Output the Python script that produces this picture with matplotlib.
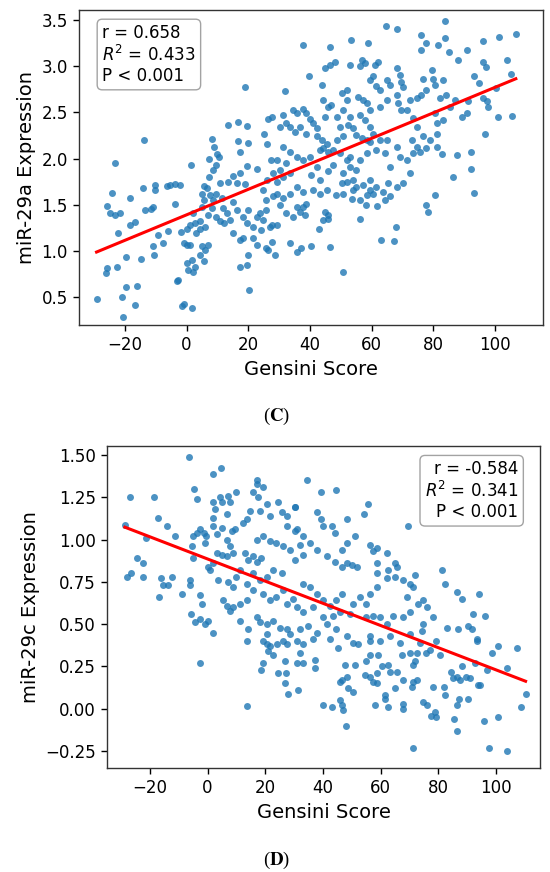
import numpy as np
import matplotlib.pyplot as plt

# ---- panel C: miR-29a vs Gensini score ----
gensini_c = [
    -23.2, -13.8, -24.2, -18.4, -14.2, -10.3, -10.3, -5.4, -3.8, -2.2, -6.5, 1.4,
    7.2, 8.6, 9.7, 7.2, 8.3, 8.9, 10.0, 10.5, 13.4, 16.7, 16.7, 17.3, 19.5, 20.0,
    19.5, 18.9, 15.1, 17.3, 22.8, 25.1, 26.2, 27.3, 26.2, 26.5, 27.6,
    37.8, 46.5, 53.2, 59.0, 64.6, 68.3, 76.0, 83.8, 77.8, 76.2, 81.6, 83.8, 85.2, 88.1, 91.1, 96.2, 101.2, 106.8, 103.8, 96.2,
    97.1, 105.1, 93.2, 94.9, 100.3, 96.2, 97.8, 97.3, 101.1, 105.6, 96.8, 92.4, 92.4, 93.2, 87.8, 86.3, 83.0, 80.5,
    90.8, 89.5, 91.4, 87.0, 85.4, 83.2, 81.1, 80.5, 83.2, 80.5, 79.5, 79.8, 76.8, 77.8, 76.2, 82.2, 84.3,
    74.6, 72.4, 71.4, 73.5, 74.6, 73.0, 76.8, 78.9, 81.1, 81.1, 75.7, 77.8,
    68.1, 69.2, 69.7, 70.3, 64.9, 65.9, 68.1, 68.7, 69.7, 64.9, 62.7,
    61.1, 62.2, 60.5, 61.6, 62.7, 59.5, 56.8, 57.8, 56.4, 53.0,
    55.7, 57.3, 58.4, 59.5, 56.2, 57.8, 59.5, 60.5, 54.1, 55.1, 56.8, 58.4, 59.5,
    51.9, 50.3, 51.9, 50.8, 53.0, 52.4, 48.7, 49.7, 50.8, 48.7, 47.6,
    44.9, 46.5, 48.1, 43.8, 44.3, 45.9, 47.0, 44.9, 39.8, 37.8, 38.9,
    31.9, 31.4, 32.4, 30.3, 34.6, 35.7, 33.5, 35.1, 36.8,
    40.0, 41.1, 42.2, 38.9, 42.2, 43.8, 45.4, 44.3, 45.9,
    31.4, 33.5, 35.7, 37.8, 32.4, 29.2, 30.3, 40.0, 43.2, 42.2, 40.5, 43.2, 45.9, 47.6,
    49.7, 51.9, 53.0, 50.8, 54.1, 55.1, 57.3, 59.5, 61.6, 63.8, 65.9, 68.1, 70.3, 72.4, 71.4, 69.2, 68.1,
    61.6, 62.7, 64.9, 64.3, 65.9, 58.4, 56.2, 55.1, 53.0, 73.5, 74.6, 60.5, 58.4, 59.5,
    33.5, 35.7, 37.8, 41.1, 43.2, 45.4, 48.6, 50.8, 28.1, 29.2, 31.4, 33.5,
    -29.2, -25.9, -26.2, -25.9, -24.9, -23.2, -21.6, -22.7, -22.2, -20.8, -19.5, -20.5, -19.7, -18.2, -16.8, -16.8, -16.2, -14.9,
    -13.5, -11.4, -10.8, -10.8, -10.6, -9.2, -7.6, -5.9, -3.8, -3.2, -2.7, -1.6, -0.9, 1.9, -1.9, -0.8, 0.0, 1.1,
    0.2, 0.5, 1.6, 2.2, 2.7, 0.0, 1.1, 2.7, 4.3, 5.9, 4.3, 3.2, 2.2, 4.9, 5.6, 4.9, 5.6, 6.5, 7.6, 8.6, 8.1, 7.0,
    4.3, 4.9, 5.9, 5.6, 7.0, 9.5, 10.8, 12.1, 14.1, 9.7, 11.4, 11.9, 13.0, 15.1, 16.2, 18.4, 20.0, 19.5, 21.6, 22.7,
    15.1, 17.3, 18.4, 17.3, 19.5, 20.0, 20.3, 21.6, 22.7, 23.8, 24.9, 25.9, 27.0, 24.3, 25.9, 26.5, 28.6, 27.6, 29.2,
    24.9, 25.9, 28.1, 29.2, 31.4, 30.3, 33.5, 35.7, 32.4, 34.6, 35.7, 16.5, 19.0, 13.5, 11.0,
    50.6, 63.2, 67.2, 67.9, 56.2, 43.0, 46.5, 40.5, 37.0, 77.6, 78.4, 64.3, 61.8, 58.2, 56.2, 53.5,
    44.9, 46.0, 46.0, 44.3, 37.8, 38.9, 36.8, 38.4, 50.3, 51.9, 54.1, 65.4, 27.6,
]
mir29a = [
    1.95, 2.20, 1.63, 1.57, 1.68, 1.71, 1.66, 1.71, 1.72, 1.71, 1.70, 1.93,
    1.80, 1.88, 1.93, 2.00, 2.21, 2.12, 2.05, 2.02, 2.36, 2.40, 2.19, 2.07, 2.35, 2.17,
    1.92, 2.77, 1.81, 1.84, 1.89, 2.27, 2.16, 1.98, 1.77, 2.43, 2.45,
    3.23, 3.21, 3.28, 3.25, 3.43, 3.40, 3.34, 3.49, 3.25, 3.18, 3.23, 3.31, 3.15, 3.07, 3.18, 3.27, 3.32, 3.35, 3.07, 3.05,
    2.99, 2.92, 2.89, 2.82, 2.76, 2.65, 2.56, 2.62, 2.45, 2.46, 2.27, 2.07, 1.89, 1.63, 2.04, 1.80, 2.05, 1.61,
    2.49, 2.45, 2.62, 2.63, 2.56, 2.42, 2.38, 2.49, 2.85, 2.80, 2.96, 2.86, 2.86, 2.74, 2.69, 2.65, 2.69,
    2.65, 2.63, 2.53, 2.44, 2.34, 2.20, 2.24, 2.20, 2.27, 2.13, 2.07, 2.11,
    2.98, 2.90, 2.83, 2.77, 2.85, 2.80, 2.69, 2.60, 2.53, 2.63, 2.56,
    3.01, 3.05, 2.89, 2.78, 2.74, 2.85, 3.07, 3.03, 3.00, 3.01,
    2.67, 2.63, 2.60, 2.53, 2.47, 2.42, 2.34, 2.27, 2.33, 2.25, 2.22, 2.20, 2.18,
    2.74, 2.71, 2.63, 2.53, 2.45, 2.36, 2.45, 2.34, 2.24, 2.20, 2.09,
    2.98, 3.01, 3.05, 2.80, 2.63, 2.56, 2.58, 2.45, 2.89, 2.54, 2.49,
    2.73, 2.47, 2.38, 2.34, 2.53, 2.49, 2.34, 2.29, 2.34,
    2.43, 2.38, 2.33, 2.27, 2.24, 2.20, 2.16, 2.11, 2.07,
    2.13, 2.07, 2.02, 1.98, 1.95, 1.98, 1.88, 2.02, 2.09, 1.91, 1.82, 1.77, 1.86, 1.93,
    2.06, 1.98, 1.91, 1.84, 1.77, 1.69, 1.71, 1.77, 1.69, 1.64, 1.59, 1.69, 1.73, 1.84, 1.98, 2.02, 2.13,
    2.09, 2.20, 2.20, 2.06, 1.91, 2.06, 1.98, 1.88, 2.02, 2.06, 2.13, 1.62, 1.60, 1.66,
    1.62, 1.69, 1.64, 1.66, 1.62, 1.66, 1.60, 1.62, 1.84, 1.75, 1.80, 1.84,
    0.475, 0.81, 0.76, 1.49, 1.41, 1.39, 1.41, 0.82, 1.19, 0.50, 0.61, 0.28, 0.93, 1.28, 1.31, 0.41, 0.62, 0.91,
    1.44, 1.45, 1.48, 1.05, 0.95, 1.17, 1.08, 1.21, 1.51, 0.67, 0.68, 0.40, 0.42, 0.38, 1.20, 1.08, 1.06, 1.06,
    0.87, 0.79, 0.90, 0.77, 0.82, 1.24, 1.28, 1.30, 1.32, 1.26, 1.24, 1.19, 1.41, 1.48, 1.55, 1.62, 1.70, 1.68, 1.60, 1.55, 1.46, 1.39,
    0.95, 1.05, 1.01, 0.89, 1.06, 1.37, 1.32, 1.30, 1.33, 1.62, 1.57, 1.46, 1.41, 1.53, 1.44, 1.37, 1.44, 1.30, 1.26, 1.37,
    1.19, 1.12, 1.14, 0.82, 0.85, 0.95, 0.58, 1.14, 1.06, 1.41, 1.33, 1.44, 1.26, 1.23, 1.03, 1.01, 0.95, 1.28, 1.28,
    1.66, 1.55, 1.59, 1.62, 1.57, 1.50, 1.08, 0.99, 1.41, 1.37, 1.48, 1.74, 1.72, 1.75, 1.73,
    0.77, 1.12, 1.11, 1.26, 1.35, 1.24, 1.04, 1.05, 1.03, 1.50, 1.42, 1.55, 1.49, 1.50, 1.55, 1.56,
    1.42, 1.39, 1.34, 1.33, 1.48, 1.51, 1.42, 1.39, 1.73, 1.75, 1.66, 1.73, 1.10,
]

# ---- panel D: miR-29c vs Gensini score ----
gensini_d = [
    -28.7, -26.9, -28.1, -26.4, -24.6, -22.3, -22.3, -18.6, -21.2, -17.1, -14.2, -11.3, -16.8, -16.0, -15.4, -13.6, -12.5, -9.0,
    -6.4, -4.7, -3.8, -6.1, -6.1, -5.9, -4.4, -2.7, -0.9, 0.2, 2.0, -2.7, -2.1, -4.9, -5.5, -4.9, -3.8, -2.7, -1.3, -0.4, -1.0,
    2.0, 4.5, 2.0, 2.5, 4.3, 4.9, 7.7, 7.2, 10.0, 2.0, 2.0, 4.9, 3.1, 6.6, 8.3, 9.5, 6.6,
    0.2, 0.8, 2.0, 3.1, 4.9, 6.6, 8.9, 7.7, 3.7, 7.2, 8.9, 10.0, 5.4, 6.6, 7.7, 8.9, 11.2, 13.5, 11.2, 14.1, 13.5, 17.0, 18.2,
    12.4, 13.5, 14.7, 15.8, 17.0, 17.0, 17.6, 19.3, 18.2, 20.5, 21.6, 24.5, 25.7, 27.4, 30.3, 27.4, 30.3,
    12.9, 14.1, 15.8, 17.0, 18.7, 11.2, 13.5, 15.8, 18.2, 20.5, 22.8, 25.7, 17.0, 19.3, 21.6, 23.9, 26.2, 28.6,
    15.8, 19.3, 21.6, 23.9, 26.2, 27.4, 29.7, 30.9, 20.5, 22.8, 25.1, 27.4, 28.6, 20.5, 24.0, 26.2,
    34.6, 39.5, 44.5, 55.7, 69.6, 30.3, 37.8, 39.5, 40.1, 43.0, 44.2, 48.4, 51.1, 54.2, 56.3, 58.6, 57.5,
    30.9, 33.2, 35.5, 32.0, 30.3, 33.2, 37.8, 41.3, 44.2, 46.5, 48.2, 50.0, 51.7, 46.5, 48.2,
    58.6, 62.1, 65.0, 65.6, 62.7, 58.6, 62.1, 65.0, 67.9, 70.2, 71.3, 69.0, 71.9, 58.6, 56.3, 55.1, 52.8, 50.5, 49.4,
    46.5, 44.7, 42.4, 40.1, 37.8, 35.5, 33.2, 33.2, 36.6, 40.1, 43.6, 45.9, 32.0, 34.9, 37.8, 41.3, 44.7, 48.2, 50.5,
    55.1, 57.5, 59.8, 62.1, 64.4, 67.9, 70.2, 73.1, 74.8, 76.0, 78.3, 74.8, 74.2,
    81.2, 82.3, 86.4, 88.1, 94.2, 92.1, 96.2, 82.9, 86.9, 90.4, 91.6, 93.3, 100.8, 107.2, 56.3, 59.8, 63.2, 66.7, 70.2, 73.6,
    -2.7, 13.8, 19.3, 20.5, 21.6, 21.0, 22.8, 19.3, 18.7, 24.5, 26.8, 27.2, 26.8, 28.0, 27.6, 30.9, 31.2, 32.0,
    71.3, 97.7, 104.0, 86.6, 85.4, 95.9, 100.9, 108.6, 110.3, 90.4, 87.3, 86.4, 82.3, 82.1, 77.5, 78.8, 79.4, 78.3, 74.8, 76.0,
    67.9, 67.9, 62.7, 61.5, 61.5, 58.0, 48.0, 45.9, 46.5, 46.8, 43.0, 40.1, 65.0, 71.3, 72.5, 70.8, 67.9,
    50.5, 48.8, 45.9, 46.5, 48.2, 47.6, 51.1, 54.6, 56.3, 57.5, 58.6, 58.6, 33.2, 37.2, 37.2,
    59.2, 60.4, 63.2, 65.8, 62.7, 67.3, 70.2, 72.5, 75.9, 77.1, 80.6, 71.3, 71.9,
    84.6, 86.4, 85.2, 88.1, 87.5, 89.8, 91.0, 92.7, 93.9, 94.5, 96.8, 98.8, 104.0, 93.3, 79.4,
    55.1, 56.3, 52.3, 56.3, 45.3, 42.4, 36.6, 33.2, 30.9,
]
mir29c = [
    1.086, 1.25, 0.78, 0.80, 0.89, 0.86, 0.78, 1.25, 1.01, 1.13, 1.08, 1.02, 0.66, 0.77, 0.73, 0.73, 0.78, 0.68,
    1.49, 1.30, 1.24, 0.76, 0.73, 0.56, 0.51, 0.53, 0.50, 0.52, 0.45, 0.67, 0.62, 0.89, 0.96, 1.02, 1.04, 1.06, 1.04, 1.02, 0.98,
    1.39, 1.42, 1.22, 1.18, 1.25, 1.22, 1.22, 1.26, 1.28, 1.13, 1.08, 1.07, 1.03, 1.15, 1.05, 1.06, 1.00,
    0.84, 0.82, 0.86, 0.92, 0.91, 0.90, 0.92, 0.96, 0.76, 0.75, 0.72, 0.78, 0.64, 0.61, 0.58, 0.60, 0.62, 0.64, 0.52, 0.47, 0.40, 0.54, 0.51,
    1.10, 1.12, 1.17, 1.28, 1.33, 1.35, 1.25, 1.31, 1.17, 1.21, 1.14, 1.22, 1.16, 1.14, 1.19, 1.08, 1.05,
    0.92, 0.88, 0.90, 0.87, 0.89, 0.82, 0.74, 0.80, 0.76, 0.78, 0.82, 0.80, 1.00, 1.02, 0.99, 0.98, 0.96, 0.94,
    0.70, 0.68, 0.64, 0.66, 0.70, 0.62, 0.65, 0.60, 0.50, 0.52, 0.48, 0.47, 0.44, 0.44, 0.38, 0.40,
    1.35, 1.28, 1.29, 1.21, 1.08, 1.19, 1.16, 1.12, 1.08, 1.08, 1.04, 1.12, 1.02, 1.15, 0.97, 0.95, 0.93,
    1.06, 1.02, 0.98, 0.97, 0.88, 0.91, 0.94, 0.90, 0.87, 0.84, 0.86, 0.85, 0.84, 0.94, 0.98,
    0.86, 0.92, 0.86, 0.84, 0.82, 0.80, 0.77, 0.78, 0.76, 0.74, 0.72, 0.66, 0.79, 0.72, 0.68, 0.62, 0.66, 0.62, 0.56,
    0.68, 0.64, 0.61, 0.64, 0.68, 0.72, 0.74, 0.57, 0.60, 0.54, 0.55, 0.57, 0.47, 0.49, 0.45, 0.50, 0.47, 0.43, 0.39,
    0.54, 0.55, 0.54, 0.50, 0.55, 0.54, 0.57, 0.62, 0.64, 0.60, 0.54, 0.50, 0.46,
    0.82, 0.74, 0.69, 0.65, 0.68, 0.56, 0.55, 0.48, 0.47, 0.49, 0.47, 0.41, 0.37, 0.36, 0.43, 0.40, 0.43, 0.39, 0.44, 0.39,
    0.27, 0.016, 0.40, 0.38, 0.37, 0.34, 0.32, 0.27, 0.23, 0.21, 0.28, 0.21, 0.15, 0.09, 0.38, 0.27, 0.11, 0.33,
    -0.23, -0.23, -0.25, -0.13, -0.06, -0.07, -0.05, 0.01, 0.09, 0.06, 0.06, 0.02, 0.08, 0.13, -0.04, -0.02, -0.05, 0.13, 0.04, 0.02,
    0.03, 0.00, 0.01, 0.06, 0.08, 0.02, -0.10, 0.05, 0.02, -0.01, 0.01, 0.025, 0.12, 0.16, 0.17, 0.13, 0.17,
    0.10, 0.12, 0.16, 0.17, 0.19, 0.26, 0.26, 0.20, 0.19, 0.16, 0.15, 0.21, 0.27, 0.24, 0.29,
    0.32, 0.25, 0.22, 0.22, 0.26, 0.32, 0.33, 0.33, 0.33, 0.35, 0.32, 0.26, 0.28,
    0.22, 0.19, 0.18, 0.25, 0.17, 0.19, 0.18, 0.27, 0.14, 0.14, 0.23, 0.33, 0.24, 0.40, 0.40,
    0.28, 0.32, 0.38, 0.40, 0.36, 0.41, 0.41, 0.38, 0.40,
]

# regression lines as drawn in the figure (slope, intercept)
fit_c = (0.0138, 1.39)
fit_d = (-0.00655, 0.885)

stats_c = 'r = 0.658\n$R^2$ = 0.433\nP < 0.001'
stats_d = 'r = -0.584\n$R^2$ = 0.341\nP < 0.001'

panels = [
    dict(x=gensini_c, y=mir29a, fit=fit_c, stats=stats_c, ylabel='miR-29a Expression',
         rect=[0.1436, 0.6273, 0.8436, 0.3612], xlim=(-34.9, 115.6), ylim=(0.197, 3.608),
         yticks=[0.5, 1.0, 1.5, 2.0, 2.5, 3.0, 3.5], fmt='{:.1f}',
         box=(0.05, 0.955, 'left'), caption=r'($\mathbf{C}$)', cap_y=1 - 416 / 872),
    dict(x=gensini_d, y=mir29c, fit=fit_d, stats=stats_d, ylabel='miR-29c Expression',
         rect=[0.1945, 0.1193, 0.7873, 0.3693], xlim=(-34.9, 115.3), ylim=(-0.35, 1.553),
         yticks=[-0.25, 0.0, 0.25, 0.5, 0.75, 1.0, 1.25, 1.5], fmt='{:.2f}',
         box=(0.95, 0.955, 'right'), caption=r'($\mathbf{D}$)', cap_y=1 - 860 / 872),
]

fig = plt.figure(figsize=(5.5, 8.72), dpi=100)

for p in panels:
    ax = fig.add_axes(p['rect'])
    x = np.array(p['x'])
    y = np.array(p['y'])
    ax.scatter(x, y, s=25, color='#1f77b4', alpha=0.8, linewidths=0)
    xs = np.array([x.min(), x.max()])
    slope, intercept = p['fit']
    ax.plot(xs, slope * xs + intercept, color='red', lw=2.2)

    ax.set_xlim(p['xlim'])
    ax.set_ylim(p['ylim'])
    ax.set_xticks([-20, 0, 20, 40, 60, 80, 100])
    ax.set_xticklabels(['\u221220', '0', '20', '40', '60', '80', '100'])
    ax.set_yticks(p['yticks'])
    ax.set_yticklabels([p['fmt'].format(v).replace('-', '\u2212') for v in p['yticks']])
    ax.tick_params(labelsize=12, length=4.5, width=1.0)
    for sp in ax.spines.values():
        sp.set_linewidth(1.0)
        sp.set_color('#333333')
    ax.set_xlabel('Gensini Score', fontsize=14)
    ax.set_ylabel(p['ylabel'], fontsize=14)

    bx, by, ha = p['box']
    ax.text(bx, by, p['stats'], transform=ax.transAxes, ha=ha, va='top',
            multialignment=ha, fontsize=12, linespacing=1.15,
            bbox=dict(boxstyle='round,pad=0.3', facecolor='white',
                      edgecolor='#999999', alpha=0.9))

    fig.text(0.502, p['cap_y'], p['caption'], ha='center', va='center',
             family='Liberation Serif', math_fontfamily='stix', fontsize=13.5)

fig.savefig('out.png', dpi=100)
